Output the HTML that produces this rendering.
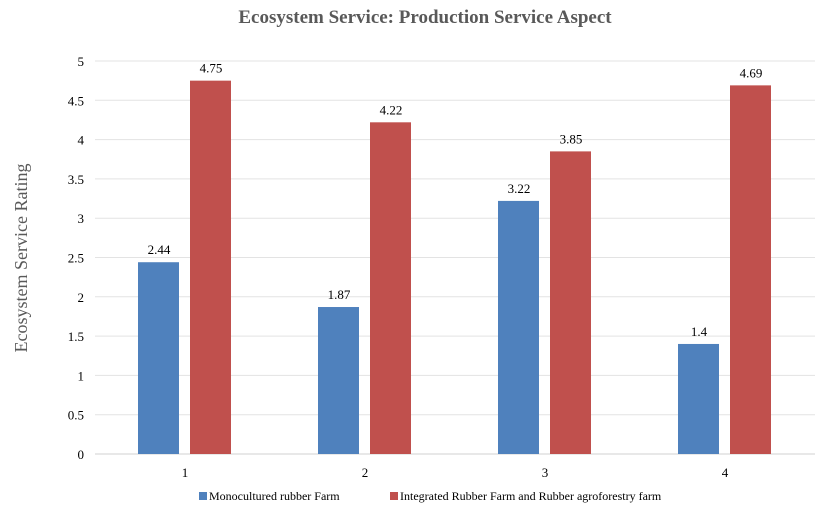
<!DOCTYPE html>
<html><head><meta charset="utf-8"><style>
body{margin:0;background:#fff;}
svg{display:block;font-family:"Liberation Serif",serif;}
</style></head><body>
<svg id="chart" width="825" height="519" viewBox="0 0 825 519">
<text x="425" y="23" text-anchor="middle" font-size="19" font-weight="bold" fill="#595959">Ecosystem Service: Production Service Aspect</text>
<text transform="translate(27,258) rotate(-90)" text-anchor="middle" font-size="18" fill="#595959">Ecosystem Service Rating</text>
<g id="grid"></g><g id="bars"></g><g id="xlabels"></g>
<g>
<rect x="199" y="492" width="8" height="8" fill="#4f81bd"/>
<text x="209" y="500" font-size="12" fill="#000">Monocultured rubber Farm</text>
<rect x="390" y="492" width="8" height="8" fill="#c0504d"/>
<text x="400" y="500" font-size="12" fill="#000">Integrated Rubber Farm and Rubber agroforestry farm</text>
</g>
</svg>
<script>
const categories=["1","2","3","4"];
const mono=[2.44,1.87,3.22,1.4];
const integ=[4.75,4.22,3.85,4.69];
const monoLabels=["2.44","1.87","3.22","1.4"];
const integLabels=["4.75","4.22","3.85","4.69"];
const yTicks=[0,0.5,1,1.5,2,2.5,3,3.5,4,4.5,5];
const yTickLabels=["0","0.5","1","1.5","2","2.5","3","3.5","4","4.5","5"];
const NS="http://www.w3.org/2000/svg";
const x0=95,x1=815,yb=454,yt=61,ymax=5;
const y=v=>yb-(v/ymax)*(yb-yt);
const bw=(x1-x0)/categories.length;
const xc=i=>x0+bw*(i+0.5);
function mk(t,a,p){const e=document.createElementNS(NS,t);for(const k in a)e.setAttribute(k,a[k]);p.appendChild(e);return e;}
const grid=document.getElementById('grid'),bars=document.getElementById('bars'),xl=document.getElementById('xlabels');
yTicks.forEach((v,i)=>{
 const l=mk('line',{x1:x0,x2:x1,y1:y(v),y2:y(v),stroke:i==0?'#d0d0d0':'#e3e3e3','stroke-width':1},grid);
 
 
 const t=mk('text',{x:84,y:y(v)+5,'text-anchor':'end','font-size':13,fill:'#000'},grid);
 t.textContent=yTickLabels[i];
 
 
});
categories.forEach((c,i)=>{
 const cx=xc(i);
 const b1=mk('rect',{x:cx-47,y:y(mono[i]),width:41,height:yb-y(mono[i]),fill:'#4f81bd'},bars);
 
 
 const b2=mk('rect',{x:cx+5,y:y(integ[i]),width:41,height:yb-y(integ[i]),fill:'#c0504d'},bars);
 
 
 const t1=mk('text',{x:cx-26,y:y(mono[i])-8,'text-anchor':'middle','font-size':13},bars);
 t1.textContent=monoLabels[i];
 
 
 const t2=mk('text',{x:cx+26,y:y(integ[i])-8,'text-anchor':'middle','font-size':13},bars);
 t2.textContent=integLabels[i];
 
 
 const t3=mk('text',{x:cx,y:477,'text-anchor':'middle','font-size':13},xl);
 t3.textContent=c;
 
 
});
</script>
</body></html>
